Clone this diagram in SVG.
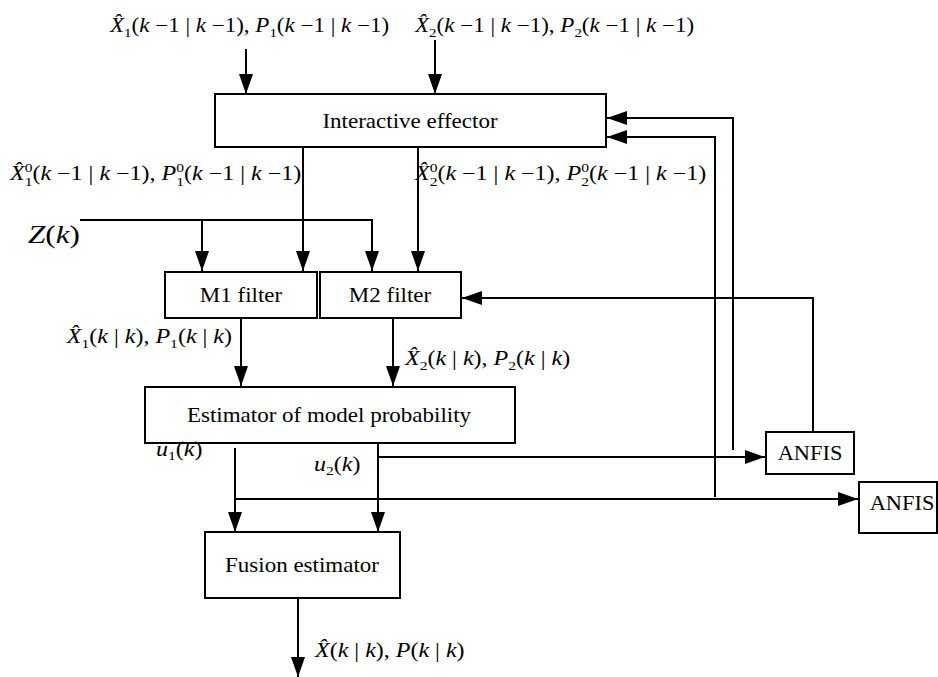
<svg xmlns="http://www.w3.org/2000/svg" width="938" height="677" viewBox="0 0 938 677">
<defs>
<marker id="ah" markerUnits="userSpaceOnUse" markerWidth="20" markerHeight="14" refX="20" refY="7" orient="auto">
<path d="M0,0 L20,7 L0,14 z" fill="#000"/>
</marker>
<style>
.box{fill:#fff;stroke:#000;stroke-width:2}
.t{font-family:"Liberation Serif","Times New Roman",serif;font-size:20px;fill:#000}
.m{font-family:"Liberation Serif","Times New Roman",serif;font-size:20px;fill:#000}
.i{font-style:italic}
.s{font-size:13px}
.c{fill:none;stroke:#000;stroke-width:2}
.a{marker-end:url(#ah)}
</style>
</defs>
<rect width="938" height="677" fill="#fff"/>
<g id="connectors">
<path class="c a" d="M246,49 V94"/>
<path class="c a" d="M435,40 V94"/>
<path class="c a" d="M303,147 V271"/>
<path class="c a" d="M418,147 V271"/>
<path class="c a" d="M80,220 H372 V271"/>
<path class="c a" d="M202,221 V271"/>
<path class="c a" d="M241,318 V386"/>
<path class="c a" d="M393,318 V386"/>
<path class="c a" d="M235,448 V532"/>
<path class="c a" d="M378,443 V532"/>
<path class="c a" d="M235,499 H858"/>
<path class="c a" d="M378,457 H765"/>
<path class="c a" d="M733,450 V118 H607"/>
<path class="c a" d="M715,497 V137 H607"/>
<path class="c a" d="M813,432 V298 H462"/>
<path class="c a" d="M298,598 V677"/>
</g>
<g id="effector">
<rect class="box" x="215" y="94" width="391" height="53"/>
<text class="t" text-anchor="middle" transform="translate(410,128) scale(1.15,1)">Interactive effector</text>
</g>
<g id="m1filter">
<rect class="box" x="165" y="272" width="152" height="46"/>
<text class="t" text-anchor="middle" transform="translate(241,302) scale(1.15,1)">M1 filter</text>
</g>
<g id="m2filter">
<rect class="box" x="320" y="272" width="141" height="46"/>
<text class="t" text-anchor="middle" transform="translate(390,302) scale(1.15,1)">M2 filter</text>
</g>
<g id="estimator">
<rect class="box" x="145" y="387" width="370" height="56"/>
<text class="t" text-anchor="middle" transform="translate(329,422) scale(1.15,1)">Estimator of model probability</text>
</g>
<g id="fusion">
<rect class="box" x="205" y="532" width="195" height="66"/>
<text class="t" text-anchor="middle" transform="translate(302,572) scale(1.15,1)">Fusion estimator</text>
</g>
<g id="anfis1">
<rect class="box" x="766" y="432" width="88" height="42"/>
<text class="t" text-anchor="middle" transform="translate(810,460) scale(1.12,1)">ANFIS</text>
</g>
<g id="anfis2">
<rect class="box" x="859" y="482" width="78" height="51"/>
<text class="t" text-anchor="middle" transform="translate(902,510) scale(1.12,1)">ANFIS</text>
</g>
<g id="labels">
<text class="m" transform="translate(110,32) scale(1.15,1)"><tspan class="i">X̂</tspan><tspan class="s" dy="5">1</tspan><tspan dy="-5">(</tspan><tspan class="i">k</tspan> −1 | <tspan class="i">k</tspan> −1), <tspan class="i">P</tspan><tspan class="s" dy="5">1</tspan><tspan dy="-5">(</tspan><tspan class="i">k</tspan> −1 | <tspan class="i">k</tspan> −1)</text>
<text class="m" transform="translate(415,32) scale(1.15,1)"><tspan class="i">X̂</tspan><tspan class="s" dy="5">2</tspan><tspan dy="-5">(</tspan><tspan class="i">k</tspan> −1 | <tspan class="i">k</tspan> −1), <tspan class="i">P</tspan><tspan class="s" dy="5">2</tspan><tspan dy="-5">(</tspan><tspan class="i">k</tspan> −1 | <tspan class="i">k</tspan> −1)</text>
<text class="m" transform="translate(10,180) scale(1.2,1)"><tspan class="i">X̂</tspan><tspan class="s" dy="6">1</tspan><tspan class="s" dx="-6.5" dy="-14">0</tspan><tspan dy="8">(</tspan><tspan class="i">k</tspan> −1 | <tspan class="i">k</tspan> −1), <tspan class="i">P</tspan><tspan class="s" dy="6">1</tspan><tspan class="s" dx="-6.5" dy="-14">0</tspan><tspan dy="8">(</tspan><tspan class="i">k</tspan> −1 | <tspan class="i">k</tspan> −1)</text>
<text class="m" transform="translate(415,180) scale(1.2,1)"><tspan class="i">X̂</tspan><tspan class="s" dy="6">2</tspan><tspan class="s" dx="-6.5" dy="-14">0</tspan><tspan dy="8">(</tspan><tspan class="i">k</tspan> −1 | <tspan class="i">k</tspan> −1), <tspan class="i">P</tspan><tspan class="s" dy="6">2</tspan><tspan class="s" dx="-6.5" dy="-14">0</tspan><tspan dy="8">(</tspan><tspan class="i">k</tspan> −1 | <tspan class="i">k</tspan> −1)</text>
<text class="m" style="font-size:26px" transform="translate(28,243) scale(1.2,1)"><tspan class="i">Z</tspan>(<tspan class="i">k</tspan>)</text>
<text class="m" text-anchor="end" transform="translate(232,343) scale(1.2,1)"><tspan class="i">X̂</tspan><tspan class="s" dy="5">1</tspan><tspan dy="-5">(</tspan><tspan class="i">k</tspan> | <tspan class="i">k</tspan>), <tspan class="i">P</tspan><tspan class="s" dy="5">1</tspan><tspan dy="-5">(</tspan><tspan class="i">k</tspan> | <tspan class="i">k</tspan>)</text>
<text class="m" transform="translate(405,365) scale(1.2,1)"><tspan class="i">X̂</tspan><tspan class="s" dy="5">2</tspan><tspan dy="-5">(</tspan><tspan class="i">k</tspan> | <tspan class="i">k</tspan>), <tspan class="i">P</tspan><tspan class="s" dy="5">2</tspan><tspan dy="-5">(</tspan><tspan class="i">k</tspan> | <tspan class="i">k</tspan>)</text>
<text class="m" transform="translate(156,456) scale(1.2,1)"><tspan class="i">u</tspan><tspan class="s" dy="4">1</tspan><tspan dy="-4">(</tspan><tspan class="i">k</tspan>)</text>
<text class="m" transform="translate(314,471) scale(1.2,1)"><tspan class="i">u</tspan><tspan class="s" dy="4">2</tspan><tspan dy="-4">(</tspan><tspan class="i">k</tspan>)</text>
<text class="m" transform="translate(315,657) scale(1.2,1)"><tspan class="i">X̂</tspan>(<tspan class="i">k</tspan> | <tspan class="i">k</tspan>), <tspan class="i">P</tspan>(<tspan class="i">k</tspan> | <tspan class="i">k</tspan>)</text>
</g>
</svg>
